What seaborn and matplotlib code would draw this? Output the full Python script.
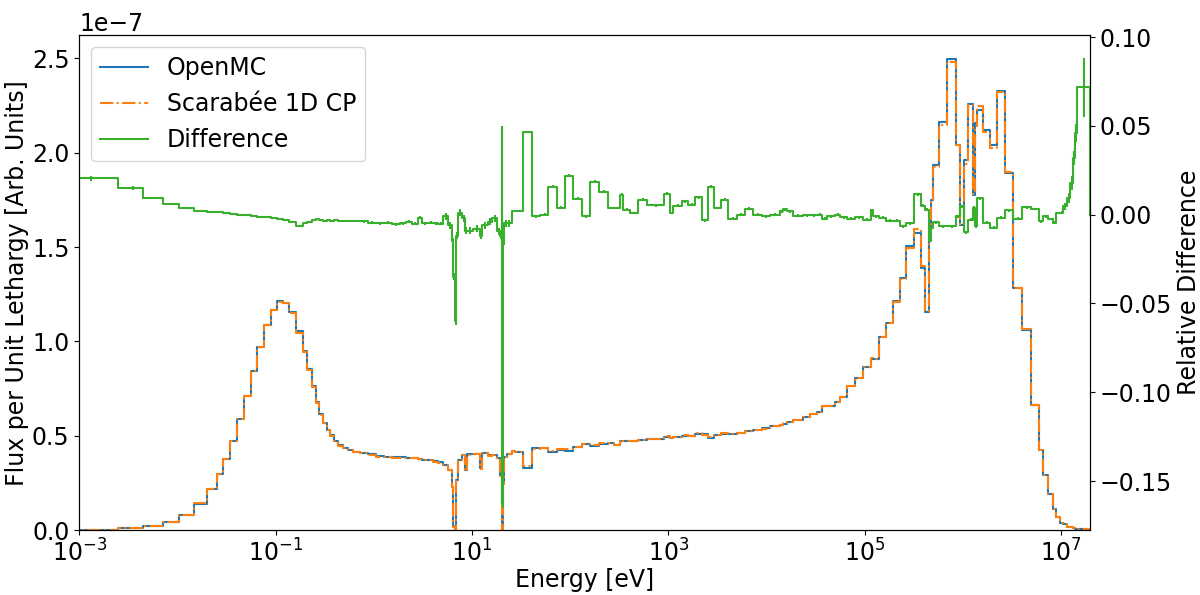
import numpy as np
import seaborn as sns

import matplotlib
matplotlib.use('Agg')
import matplotlib.pyplot as plt

# group boundaries [eV]
energy_edges = [
    1.1e-4, 2.513e-3, 4.516e-3, 7.217e-3, 1.050e-2, 1.493e-2, 2.025e-2, 2.525e-2, 2.947e-2, 3.448e-2,
    4.035e-2, 4.789e-2, 5.603e-2, 6.541e-2, 7.655e-2, 8.956e-2, 0.1045, 0.1195, 0.1385, 0.1621,
    0.1896, 0.2113, 0.2342, 0.2572, 0.2799, 0.3074, 0.3330, 0.3597, 0.3951, 0.4370,
    0.4914, 0.5525, 0.6213, 0.7268, 0.8768, 1.0576, 1.276, 1.539, 1.857, 2.137,
    2.460, 2.833, 3.111, 3.580, 4.054, 4.526, 5.126, 5.764, 6.241, 6.480,
    6.697, 6.902, 7.284, 7.894, 8.527, 8.872, 10.36, 12.12, 12.61, 14.72,
    16.05, 17.93, 19.37, 20.16, 20.40, 20.78, 21.27, 22.66, 25.48, 27.53,
    33.45, 40.73, 49.48, 60.12, 73.75, 88.95, 107.3, 132.5, 159.8, 197.4,
    243.8, 280.6, 323.0, 346.5, 408.3, 492.6, 608.2, 906.2, 1043, 1119,
    1382, 1591, 1875, 2209, 2543, 2927, 3449, 4064, 5019, 6056,
    7304, 9020, 10880, 13760, 14760, 16210, 18660, 23590, 27800, 32760,
    36840, 41420, 49960, 56170, 66210, 79860, 96320, 116200, 121800, 140200,
    165200, 194700, 229400, 264000, 318500, 375400, 412300, 452700, 474500, 497100,
    572300, 690500, 852500, 936500, 1.029e6, 1.130e6, 1.270e6, 1.316e6, 1.394e6, 1.605e6,
    1.891e6, 2.229e6, 2.690e6, 3.245e6, 4.008e6, 4.949e6, 5.970e6, 6.556e6, 7.375e6, 8.291e6,
    8.892e6, 9.768e6, 1.048e7, 1.151e7, 1.235e7, 1.325e7, 1.388e7, 1.455e7, 1.951e7,
]

# OpenMC flux per unit lethargy (x 1e-7)
openmc_flux = [
    0.002, 0.012, 0.02, 0.044, 0.08, 0.141, 0.217, 0.297, 0.376, 0.473,
    0.588, 0.711, 0.844, 0.971, 1.089, 1.169, 1.212, 1.206, 1.156, 1.054,
    0.948, 0.853, 0.763, 0.678, 0.614, 0.568, 0.533, 0.502, 0.473, 0.45,
    0.436, 0.424, 0.413, 0.408, 0.402, 0.392, 0.388, 0.387, 0.385, 0.384,
    0.382, 0.378, 0.374, 0.372, 0.364, 0.36, 0.345, 0.318, 0.23, 0.02,
    0.002, 0.265, 0.371, 0.397, 0.318, 0.403, 0.406, 0.33, 0.41, 0.397,
    0.397, 0.38, 0.29, 0.05, 0.002, 0.25, 0.388, 0.406, 0.42, 0.415,
    0.327, 0.433, 0.433, 0.415, 0.427, 0.42, 0.438, 0.455, 0.445, 0.455,
    0.462, 0.45, 0.473, 0.473, 0.473, 0.475, 0.482, 0.494, 0.486, 0.491,
    0.498, 0.498, 0.508, 0.508, 0.486, 0.503, 0.512, 0.512, 0.517, 0.526,
    0.533, 0.539, 0.551, 0.556, 0.565, 0.574, 0.583, 0.6, 0.618, 0.627,
    0.657, 0.657, 0.68, 0.706, 0.765, 0.807, 0.865, 0.909, 0.909, 1.024,
    1.10, 1.215, 1.338, 1.504, 1.577, 1.391, 1.156, 1.589, 1.75, 1.933,
    2.163, 2.498, 2.04, 1.615, 1.96, 2.26, 1.774, 2.155, 2.224, 2.118,
    2.04, 2.327, 1.893, 1.285, 1.063, 0.662, 0.424, 0.291, 0.19, 0.11,
    0.07, 0.04, 0.035, 0.017, 0.016, 0.012, 0.008, 0.006,
]

# relative difference (Scarabee - OpenMC) / OpenMC
rel_diff = [
    0.0205, 0.0149, 0.0095, 0.006, 0.0037, 0.0022, 0.0017, 0.0012, 0.0008, 0.0004,
    0.0, -0.0004, -0.0008, -0.0012, -0.0016, -0.002, -0.0025, -0.003, -0.0043, -0.0065,
    -0.005, -0.004, -0.0028, -0.0025, -0.003, -0.0034, -0.0032, -0.0034, -0.0033, -0.0035,
    -0.0034, -0.0036, -0.0037, -0.0037, -0.0045, -0.005, -0.0045, -0.0055, -0.005, -0.004,
    -0.0052, -0.0017, -0.005, -0.0045, -0.005, -0.0052, -0.001, -0.006, -0.015, -0.035,
    -0.06, -0.012, 0.001, -0.002, -0.009, -0.009, -0.008, -0.012, -0.006, -0.004,
    -0.002, -0.0095, -0.012, 0.048, -0.163, -0.015, -0.005, -0.005, 0.002, 0.002,
    0.0465, -0.001, 0.0, 0.0158, 0.0039, 0.022, 0.0089, -0.0009, 0.0186, 0.013,
    0.0037, 0.0037, 0.0112, 0.0028, 0.0009, 0.0084, 0.0052, 0.0117, 0.0009, 0.005,
    0.0074, 0.0056, 0.0097, -0.0032, 0.0158, 0.0037, 0.0084, -0.0022, 0.0, 0.0033,
    0.0, -0.0009, 0.0, 0.0019, 0.0031, 0.0019, -0.0006, -0.0005, -0.0003, 0.0,
    -0.0024, -0.001, 0.0, -0.0015, -0.0022, -0.0015, -0.0028, 0.0024, -0.001, -0.0017,
    -0.0035, -0.0035, -0.0065, -0.005, 0.0115, 0.005, 0.0028, -0.0149, -0.0073, -0.0043,
    -0.0065, -0.0065, -0.0009, 0.0046, -0.0099, -0.0028, 0.0039, -0.0065, 0.0093, -0.0045,
    -0.0073, -0.0017, 0.0024, -0.0024, 0.0041, 0.0032, -0.0037, -0.0009, -0.0025, -0.0046,
    0.0009, 0.001, 0.0046, 0.0093, 0.0177, 0.032, 0.046, 0.0716,
]

# statistical uncertainty on the difference
rel_diff_err = [
    0.0015, 0.0012, 0.0005, 0.0005, 0.0005, 0.0005, 0.0005, 0.0005, 0.0005, 0.0005,
    0.0005, 0.0005, 0.0005, 0.0005, 0.0005, 0.0005, 0.0005, 0.0005, 0.0005, 0.0005,
    0.0005, 0.0005, 0.0005, 0.0005, 0.0005, 0.0005, 0.0005, 0.0005, 0.0005, 0.0005,
    0.0005, 0.0005, 0.0005, 0.0008, 0.0008, 0.0008, 0.0008, 0.0008, 0.0008, 0.0008,
    0.0008, 0.0008, 0.0008, 0.0008, 0.0008, 0.0008, 0.002, 0.002, 0.002, 0.002,
    0.002, 0.002, 0.002, 0.002, 0.002, 0.002, 0.002, 0.002, 0.002, 0.002,
    0.002, 0.002, 0.002, 0.002, 0.002, 0.002, 0.002, 0.002, 0.0008, 0.0008,
    0.0008, 0.0008, 0.0008, 0.0008, 0.0008, 0.0008, 0.0008, 0.0008, 0.0008, 0.0008,
    0.0008, 0.0008, 0.0008, 0.0008, 0.0008, 0.0008, 0.0008, 0.0008, 0.0008, 0.0008,
    0.0008, 0.0008, 0.0008, 0.0008, 0.0008, 0.0008, 0.0008, 0.0008, 0.0008, 0.0008,
    0.0008, 0.0008, 0.0008, 0.0008, 0.0008, 0.0008, 0.0008, 0.0008, 0.0008, 0.0008,
    0.0008, 0.0008, 0.0008, 0.0008, 0.0008, 0.0008, 0.0008, 0.0008, 0.0008, 0.0008,
    0.0008, 0.0008, 0.0008, 0.0008, 0.0008, 0.0008, 0.0008, 0.0008, 0.0008, 0.0008,
    0.0008, 0.0008, 0.0008, 0.0008, 0.0008, 0.0008, 0.0008, 0.0008, 0.0008, 0.0008,
    0.0008, 0.0008, 0.0008, 0.0008, 0.0008, 0.0008, 0.0008, 0.0008, 0.0008, 0.0008,
    0.0008, 0.0008, 0.002, 0.003, 0.004, 0.004, 0.005, 0.0168,
]

assert len(energy_edges) == len(openmc_flux) + 1
assert len(openmc_flux) == len(rel_diff) == len(rel_diff_err)

plt.rcParams['font.size'] = 17

edges = np.array(energy_edges)
flux_openmc = np.array(openmc_flux) * 1e-7
diff = np.array(rel_diff)
# Scarabee flux from OpenMC flux and the relative difference
flux_scarabee = flux_openmc * (1.0 + diff)
mid = 0.5 * (edges[:-1] + edges[1:])

green = '#38b02e'

fig, ax = plt.subplots(figsize=(12, 5.95), dpi=100)
fig.subplots_adjust(left=0.066, right=0.908, bottom=0.109, top=0.941)
ax.set_xscale('log')

# step lines, closed to zero at the last edge like stairs
sns.lineplot(x=edges, y=np.append(flux_openmc, 0.0), drawstyle='steps-post',
             color='tab:blue', label='OpenMC', ax=ax, legend=False)
sns.lineplot(x=edges, y=np.append(flux_scarabee, 0.0), drawstyle='steps-post',
             color='tab:orange', linestyle='-.', label='Scarabée 1D CP',
             ax=ax, legend=False)

ax2 = ax.twinx()
sns.lineplot(x=edges, y=np.append(diff, 0.0), drawstyle='steps-post',
             color=green, label='Difference', ax=ax2, legend=False)
ax2.errorbar(mid, diff, yerr=rel_diff_err, fmt='none', ecolor=green,
             elinewidth=1.5)

ax.set_xlim(1e-3, edges[-1])
ax.set_ylim(bottom=0)
ax.set_xlabel("Energy [eV]", labelpad=1)
ax.set_ylabel("Flux per Unit Lethargy [Arb. Units]", labelpad=2)
ax2.set_ylabel("Relative Difference")

h1, l1 = ax.get_legend_handles_labels()
h2, l2 = ax2.get_legend_handles_labels()
ax2.legend(h1 + h2, l1 + l2, loc='upper left')

fig.savefig('out.png', dpi=100)
plt.close(fig)
